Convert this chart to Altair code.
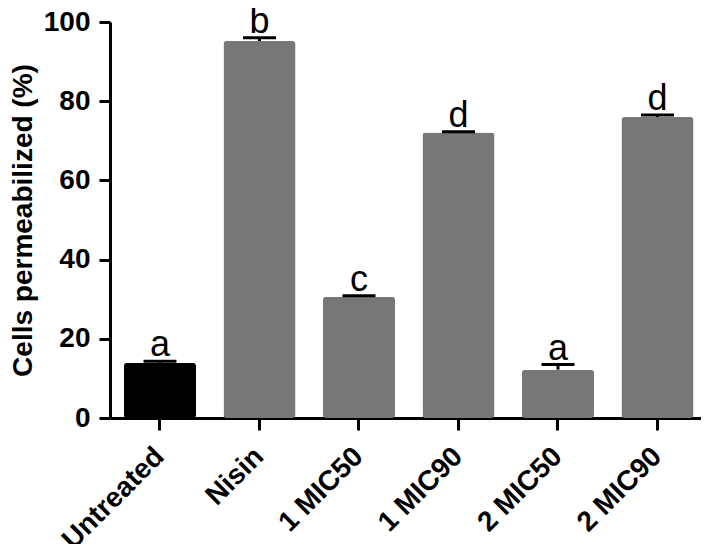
import altair as alt
import pandas as pd

categories = ["Untreated", "Nisin", "1 MIC50", "1 MIC90", "2 MIC50", "2 MIC90"]
values = [13.9, 95.2, 30.6, 72.1, 12.2, 76.0]
errors = [0.4, 0.8, 0.3, 0.2, 1.3, 0.5]
letters = ["a", "b", "c", "d", "a", "d"]
bar_colors = ["#000000", "#777777", "#777777", "#777777", "#777777", "#777777"]

df = pd.DataFrame({"cat": categories, "value": values, "err": errors, "letter": letters})
df["top"] = df["value"] + df["err"]

FONT = "Liberation Sans"

x = alt.X(
    "cat:N",
    sort=categories,
    scale=alt.Scale(paddingInner=0.276, paddingOuter=0.108, align=0.65),
    axis=alt.Axis(
        title=None, labelAngle=-45, labelAlign="right", labelBaseline="middle",
        labelFont=FONT, labelFontWeight="bold", labelFontSize=28, labelColor="black",
        labelPadding=22, domainColor="black", domainWidth=3, tickColor="black",
        tickWidth=3, tickSize=12,
    ),
)

yscale = alt.Scale(domain=[0, 100], nice=False)

bars = alt.Chart(df).mark_bar(cornerRadius=3).encode(
    x=x,
    y=alt.Y(
        "value:Q", scale=yscale,
        axis=alt.Axis(
            title="Cells permeabilized (%)", values=[0, 20, 40, 60, 80, 100],
            labelFont=FONT, labelFontWeight="bold", labelFontSize=28, labelColor="black",
            labelPadding=9, titleFont=FONT, titleFontWeight="bold", titleFontSize=28,
            titleColor="black", titleX=-73, titleY=198, domainColor="black",
            domainWidth=3, tickColor="black", tickWidth=3, tickSize=11, grid=False,
        ),
    ),
    color=alt.Color("cat:N", sort=categories,
                    scale=alt.Scale(domain=categories, range=bar_colors), legend=None),
)

err_line = alt.Chart(df).mark_rule(color="black", strokeWidth=3).encode(
    x=alt.X("cat:N", sort=categories), y=alt.Y("value:Q"), y2="top:Q"
)
caps = alt.Chart(df).mark_tick(color="black", thickness=3, size=33, opacity=1).encode(
    x=alt.X("cat:N", sort=categories), y=alt.Y("top:Q")
)
labels = alt.Chart(df).mark_text(
    font=FONT, fontSize=36, dy=-5, baseline="alphabetic", color="black"
).encode(x=alt.X("cat:N", sort=categories), y=alt.Y("top:Q"), text="letter:N")

chart = (
    alt.layer(bars, err_line, caps, labels)
    .properties(
        width=591, height=396,
        autosize=alt.AutoSizeParams(type="none"),
        padding={"left": 102, "top": 14, "right": 0, "bottom": 126},
    )
    .configure_view(stroke=None)
)

chart.save("out.html", embed_options={"renderer": "svg", "actions": False})
